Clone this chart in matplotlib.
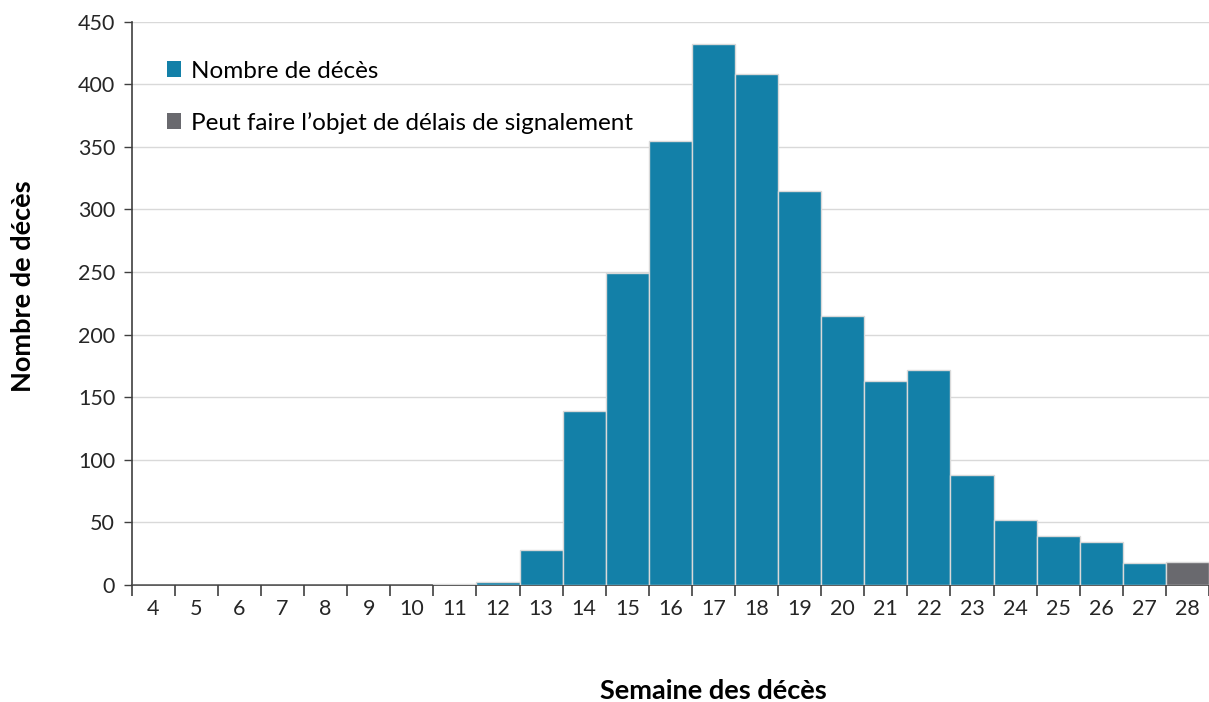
import numpy as np
import matplotlib.pyplot as plt
from matplotlib.patches import Patch

plt.rcParams['font.family'] = ['Lato', 'DejaVu Sans']

TEAL = '#1380a8'
GREY = '#69696e'

weeks = list(range(4, 29))
deaths = [0, 0, 0, 0, 0, 0, 0, 1, 2, 28, 139, 249, 355, 432, 408, 315,
          215, 163, 172, 88, 52, 39, 34, 17, 18]
delayed_weeks = [28]

colors = [GREY if w in delayed_weeks else TEAL for w in weeks]

fig = plt.figure(figsize=(12.09, 7.02), dpi=100)
ax = fig.add_axes([0.109, 0.167, 0.891, 0.802])

ax.bar(weeks, deaths, width=1.0, color=colors, edgecolor='#d9d9d9', linewidth=1, zorder=3)

ax.set_xlim(weeks[0] - 0.5, weeks[-1] + 0.5)
ax.set_ylim(0, 450)
ax.set_yticks(np.arange(0, 451, 50))
ax.yaxis.grid(True, color='#d9d9d9', linewidth=1, zorder=0)

# labels centred on bars, ticks at bar boundaries
ax.set_xticks(weeks)
ax.set_xticklabels([str(w) for w in weeks])
ax.tick_params(axis='x', which='major', length=0, pad=10)
ax.set_xticks(np.arange(weeks[0] - 0.5, weeks[-1] + 0.6, 1), minor=True)
ax.tick_params(axis='x', which='minor', length=8, width=1.2, color='#404040', direction='out')
ax.tick_params(axis='y', length=6, width=1, color='#404040', pad=6)
ax.tick_params(labelsize=15.5, labelcolor='#262626')

for s in ['top', 'right']:
    ax.spines[s].set_visible(False)
for s in ['left', 'bottom']:
    ax.spines[s].set_color('#404040')
    ax.spines[s].set_linewidth(1.2)

ax.set_xlabel('Semaine des décès', fontsize=19.5, fontweight='bold')
ax.set_ylabel('Nombre de décès', fontsize=19.5, fontweight='bold')
ax.xaxis.set_label_coords(0.54, -0.168)
ax.yaxis.set_label_coords(-0.09, 0.53)

handles = [Patch(facecolor=TEAL, label='Nombre de décès'),
           Patch(facecolor=GREY, label='Peut faire l\u2019objet de délais de signalement')]
ax.legend(handles=handles, loc='upper left', bbox_to_anchor=(0.012, 0.97), frameon=False,
          fontsize=17.5, handlelength=0.6, handleheight=0.6, handletextpad=0.4,
          labelspacing=1.25)

fig.savefig('out.png', dpi=100)
